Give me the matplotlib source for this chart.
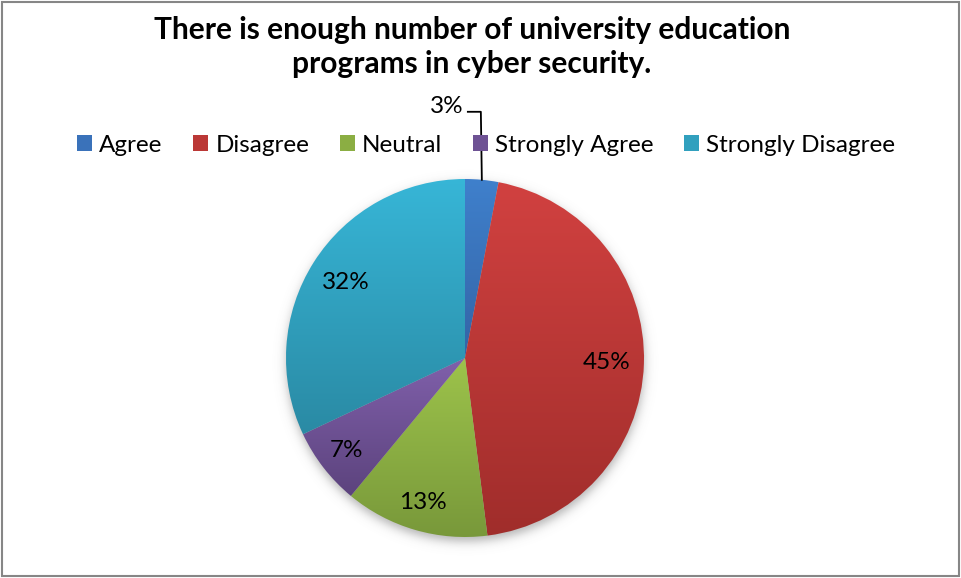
import matplotlib.pyplot as plt
import numpy as np
from matplotlib.colors import LinearSegmentedColormap
from matplotlib.patches import Patch, Rectangle

# survey answers, share of respondents (%)
categories = ['Agree', 'Disagree', 'Neutral', 'Strongly Agree', 'Strongly Disagree']
shares = [3, 45, 13, 7, 32]

# light (top) / dark (bottom) shade of each slice
top_colors = ['#3F80CC', '#D14140', '#9DC34B', '#8060AB', '#37B6D7']
bottom_colors = ['#3464A6', '#A02D2B', '#78983A', '#5C437D', '#2A8AA4']
mid_colors = ['#3A72BA', '#BB3836', '#8BAE43', '#6E5294', '#31A0BE']

title = 'There is enough number of university education\nprograms in cyber security.'

W, H = 961, 578
cx, cy, R = 465, H - 358, 179
label_dist = [None, 0.79, 0.84, 0.84, 0.79]
fs = 17.5

plt.rcParams['font.family'] = ['Lato', 'DejaVu Sans']

fig = plt.figure(figsize=(W / 100, H / 100), dpi=100)
ax = fig.add_axes([0, 0, 1, 1])
ax.axis('off')

# soft drop shadow under the pie
yy, xx = np.mgrid[0:H, 0:W]
d = np.hypot(xx - cx, yy - (cy - 5))
shadow = 0.45 / (1 + np.exp((d - R) / 3.0))
rgba = np.zeros((H, W, 4))
rgba[..., :3] = 0.35
rgba[..., 3] = shadow
ax.imshow(rgba, extent=(0, W, 0, H), origin='lower', aspect='auto', zorder=0)

wedges, _ = ax.pie(shares, center=(cx, cy), radius=R, startangle=90,
                   counterclock=False, wedgeprops=dict(linewidth=0, edgecolor='none'))

grad = np.linspace(0, 1, 256).reshape(-1, 1)
for w, c_top, c_bot in zip(wedges, top_colors, bottom_colors):
    w.set_facecolor('none')
    v = w.get_path().vertices
    cmap = LinearSegmentedColormap.from_list('shade', [c_bot, c_top])
    im = ax.imshow(grad, cmap=cmap, origin='lower', aspect='auto',
                   extent=(v[:, 0].min(), v[:, 0].max(), v[:, 1].min(), v[:, 1].max()),
                   zorder=2)
    im.set_clip_path(w)

# percentage labels
for w, val, dist in zip(wedges, shares, label_dist):
    ang = np.deg2rad((w.theta1 + w.theta2) / 2)
    if dist is None:
        # small slice: label outside with a leader line
        ex, ey = cx + R * np.cos(ang), cy + R * np.sin(ang)
        ty = ey + 68
        ax.plot([ex - 14, ex - 1, ex], [ty, ty, ey], color='black', lw=1.3, zorder=3)
        ax.text(ex - 18, ty + 5, f'{val}%', ha='right', va='center', fontsize=fs, zorder=3)
    else:
        ax.text(cx + dist * R * np.cos(ang), cy + dist * R * np.sin(ang), f'{val}%',
                ha='center', va='center', fontsize=fs, zorder=3)

ax.text(472, H - 47, title, ha='center', va='center', fontsize=21.5,
        fontweight='bold', linespacing=1.3)

handles = [Patch(facecolor=c, edgecolor='none') for c in mid_colors]
fig.legend(handles, categories, loc='center', bbox_to_anchor=(486 / W, 1 - 145 / H),
           ncol=5, frameon=False, fontsize=fs, handlelength=0.62, handleheight=0.62,
           handletextpad=0.3, columnspacing=1.25)

ax.add_patch(Rectangle((2, 2), W - 4, H - 4, fill=False, edgecolor='#868686', lw=1.5, zorder=5))

ax.set_xlim(0, W)
ax.set_ylim(0, H)
fig.savefig('out.png', dpi=100)
